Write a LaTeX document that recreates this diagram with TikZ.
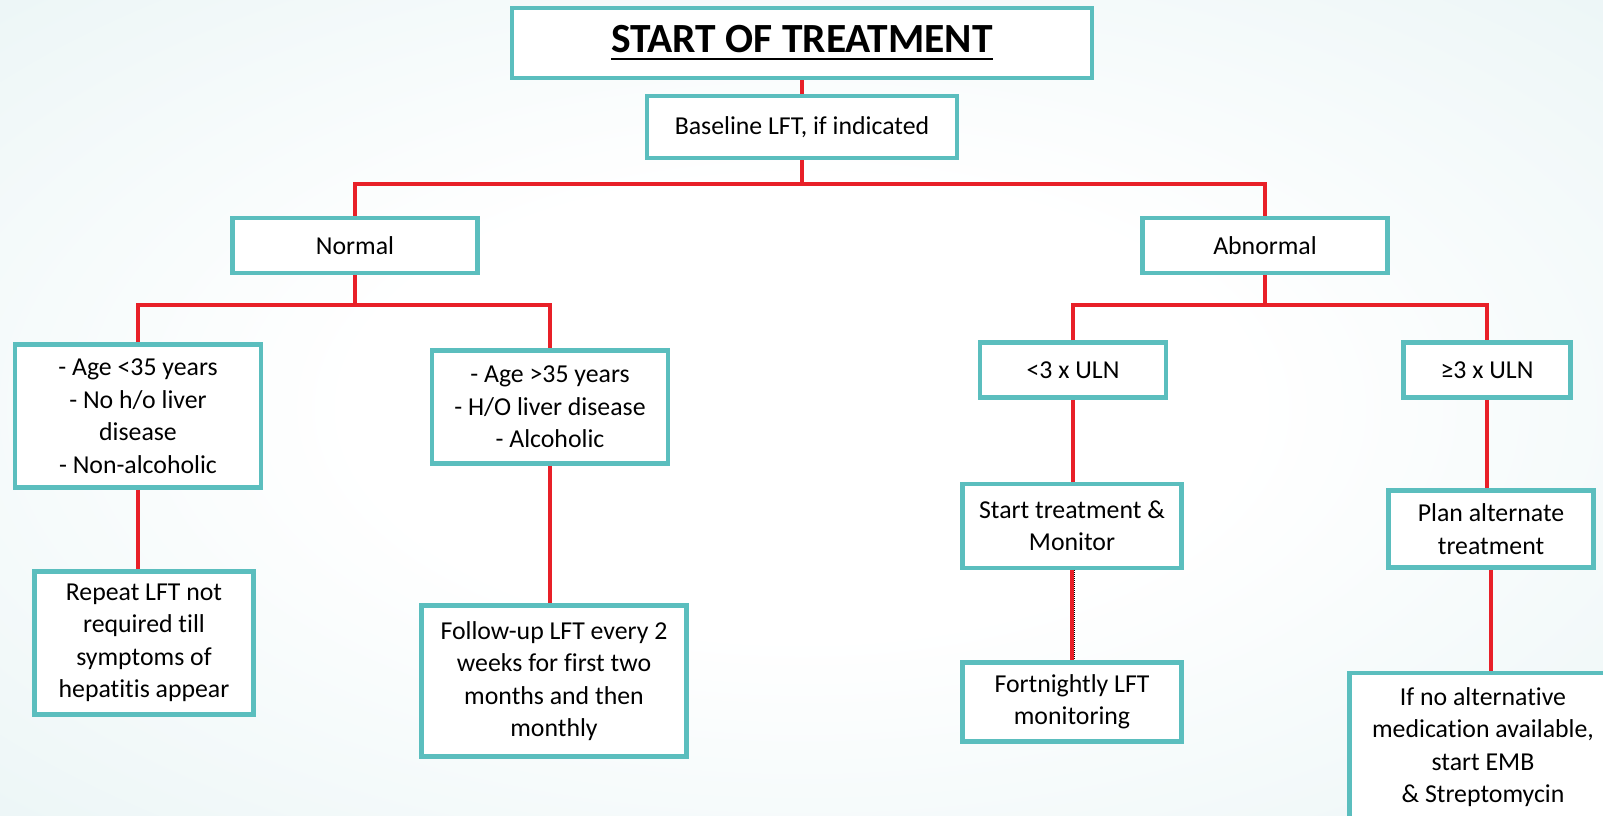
\documentclass[tikz,border=0pt]{standalone}
\usepackage{fontspec}
\setmainfont[Ligatures=NoCommon]{Carlito}
\definecolor{boxteal}{RGB}{91,190,190}
\definecolor{linkred}{RGB}{232,32,40}
\definecolor{bgout}{RGB}{224,240,241}
\pgfdeclareradialshading{bgshade}{\pgfpoint{0bp}{0bp}}{color(0bp)=(white); color(14bp)=(white); color(50bp)=(bgout)}
\newcommand\myul[1]{\setbox0\hbox{#1}\rlap{\rule[-7.4pt]{\wd0}{2.8pt}}\box0}
\tikzset{
  box/.style={draw=boxteal, line width=4.5pt, fill=white, align=center, inner sep=0pt,
    font=\fontsize{25.8}{32.5}\selectfont},
  link/.style={draw=linkred, line width=3.5pt},
  sz/.style 2 args={minimum width=#1pt, minimum height=#2pt}
}
\begin{document}
\begin{tikzpicture}[x=1pt,y=-1pt]
\path[clip] (0,0) rectangle (1603,816);
\useasboundingbox (0,0) rectangle (1603,816);
\shade[shading=bgshade] (0,0) rectangle (1603,816);

\node[box, sz={580}{70}, font=\fontsize{41.5}{48}\selectfont\bfseries] (title) at (802,43) {\myul{START OF TREATMENT}};
\node[box, sz={310}{62}] (base) at (802,127) {Baseline LFT, if indicated};
\node[box, sz={245}{55}] (normal) at (355,245.5) {Normal};
\node[box, sz={245}{55}] (abnormal) at (1265,245.5) {Abnormal};
\node[box, sz={246}{143}] (a1) at (138,416) {- Age <35 years\\- No h/o liver\\disease\\- Non-alcoholic};
\node[box, sz={236}{113}] (a2) at (550,407) {- Age >35 years\\- H/O liver disease\\- Alcoholic};
\node[box, sz={219}{143}] (rep) at (144,643) {Repeat LFT not\\required till\\symptoms of\\hepatitis appear};
\node[box, sz={265}{151}] (follow) at (554,681) {Follow-up LFT every 2\\weeks for first two\\months and then\\monthly};
\node[box, sz={186}{55}] (lt3) at (1073,370) {<3 x ULN};
\node[box, sz={167}{55}] (ge3) at (1487,370) {≥3 x ULN};
\node[box, sz={219}{84}] (start) at (1072,526) {Start treatment \&\\Monitor};
\node[box, sz={219}{79}] (fort) at (1072,702) {Fortnightly LFT\\monitoring};
\node[box, sz={205}{77}] (plan) at (1491,529) {Plan alternate\\treatment};
\node[box, sz={267}{148}] (ifno) at (1483,747) {If no alternative\\medication available,\\start EMB\\\& Streptomycin};

\coordinate (j1) at (802,184);
\coordinate (j2) at (355,305);
\coordinate (j3) at (1265,305);

\draw[link] (title.south) -- (base.north);
\draw[link] (base.south) -- (j1);
\draw[link] (normal.north) |- (j1) -| (abnormal.north);
\draw[link] (normal.south) -- (j2);
\draw[link] (a1.north) |- (j2) -| (a2.north);
\draw[link] (abnormal.south) -- (j3);
\draw[link] (lt3.north) |- (j3) -| (ge3.north);
\draw[link] (a1.south) -- (a1.south |- rep.north);
\draw[link] (a2.south) -- (a2.south |- follow.north);
\draw[link] (lt3.south) -- (lt3.south |- start.north);
\draw[link] (start.south) -- (start.south |- fort.north);
\draw[black, densely dotted, line width=1pt] ([xshift=2.5pt]start.south) -- ([xshift=2.5pt]start.south |- fort.north);
\draw[link] (ge3.south) -- (ge3.south |- plan.north);
\draw[link] (plan.south) -- (plan.south |- ifno.north);
\end{tikzpicture}
\end{document}
